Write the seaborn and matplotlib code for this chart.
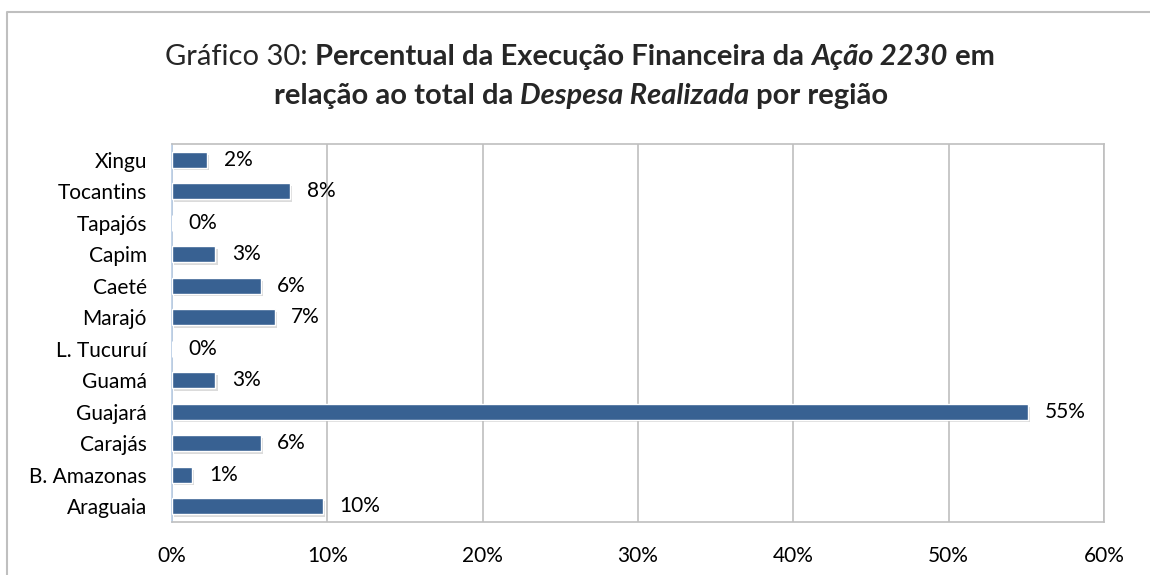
import numpy as np
import pandas as pd
import seaborn as sns
import matplotlib.pyplot as plt
from matplotlib import patheffects as pe
from matplotlib.ticker import PercentFormatter

# Data
regioes = ["Xingu", "Tocantins", "Tapajós", "Capim", "Caeté", "Marajó",
           "L. Tucuruí", "Guamá", "Guajará", "Carajás", "B. Amazonas", "Araguaia"]
percentual = [0.0225, 0.076, 0.0, 0.028, 0.057, 0.066,
              0.0, 0.028, 0.551, 0.057, 0.013, 0.097]
xticks = [0, 0.1, 0.2, 0.3, 0.4, 0.5, 0.6]

sns.set_theme(style="white")
plt.rcParams["font.family"] = ["Lato", "DejaVu Sans"]

W, H = 1150, 575
fig = plt.figure(figsize=(W / 100, H / 100), dpi=100)

# outer chart frame (top and left edges visible)
fig.add_artist(plt.Line2D([7 / W, 7 / W, 1], [0, 1 - 12 / H, 1 - 12 / H],
                          transform=fig.transFigure, color="#bfbfbf", lw=1.5))

ax = fig.add_axes([172 / W, 1 - 522 / H, (1104 - 172) / W, (522 - 144) / H])
df = pd.DataFrame({"regiao": regioes, "pct": percentual})
sns.barplot(data=df, x="pct", y="regiao", color="#386192", saturation=1,
            width=0.5, ax=ax, zorder=3)

# soft shadow under the bars
for bar in ax.patches:
    bar.set_path_effects([pe.SimplePatchShadow(offset=(1.5, -2), shadow_rgbFace="#9a9a9a", alpha=0.35),
                          pe.Normal()])

fs = 15
ax.bar_label(ax.containers[0], labels=[f"{v * 100:.0f}%" for v in percentual],
             padding=12, fontsize=fs, color="black")

ax.set_xlim(0, 0.6)
ax.set_xticks(xticks)
ax.xaxis.set_major_formatter(PercentFormatter(1.0, decimals=0))
ax.grid(axis="x", color="#bfbfbf", lw=1.2)
ax.set_axisbelow(True)
ax.set_xlabel("")
ax.set_ylabel("")
ax.tick_params(axis="x", labelsize=fs, pad=17, length=0, labelcolor="black")
ax.tick_params(axis="y", labelsize=fs, pad=18, length=0, labelcolor="black")
for s in ["top", "right", "bottom"]:
    ax.spines[s].set_color("#bfbfbf")
    ax.spines[s].set_linewidth(1.2)
ax.spines["left"].set_color("#b9cde5")
ax.spines["left"].set_linewidth(1.2)

# title with mixed styles, centered line by line
linha1 = [("Gráfico 30: ", "normal", "normal"),
          ("Percentual da Execução Financeira da ", "bold", "normal"),
          ("Ação 2230", "bold", "italic"),
          (" em", "bold", "normal")]
linha2 = [("relação ao total da ", "bold", "normal"),
          ("Despesa Realizada", "bold", "italic"),
          (" por região", "bold", "normal")]

renderer = fig.canvas.get_renderer()


def titulo(partes, xc, yc, size=21):
    textos = []
    for txt, peso, estilo in partes:
        t = fig.text(0, yc, txt, fontsize=size, fontweight=peso, fontstyle=estilo,
                     va="center", ha="left")
        textos.append(t)
    larguras = [t.get_window_extent(renderer).width for t in textos]
    x = xc - sum(larguras) / 2
    for t, w in zip(textos, larguras):
        t.set_x(x / W)
        x += w


titulo(linha1, 580, 1 - 57 / H)
titulo(linha2, 581, 1 - 96 / H)

fig.savefig("out.png", dpi=100)
